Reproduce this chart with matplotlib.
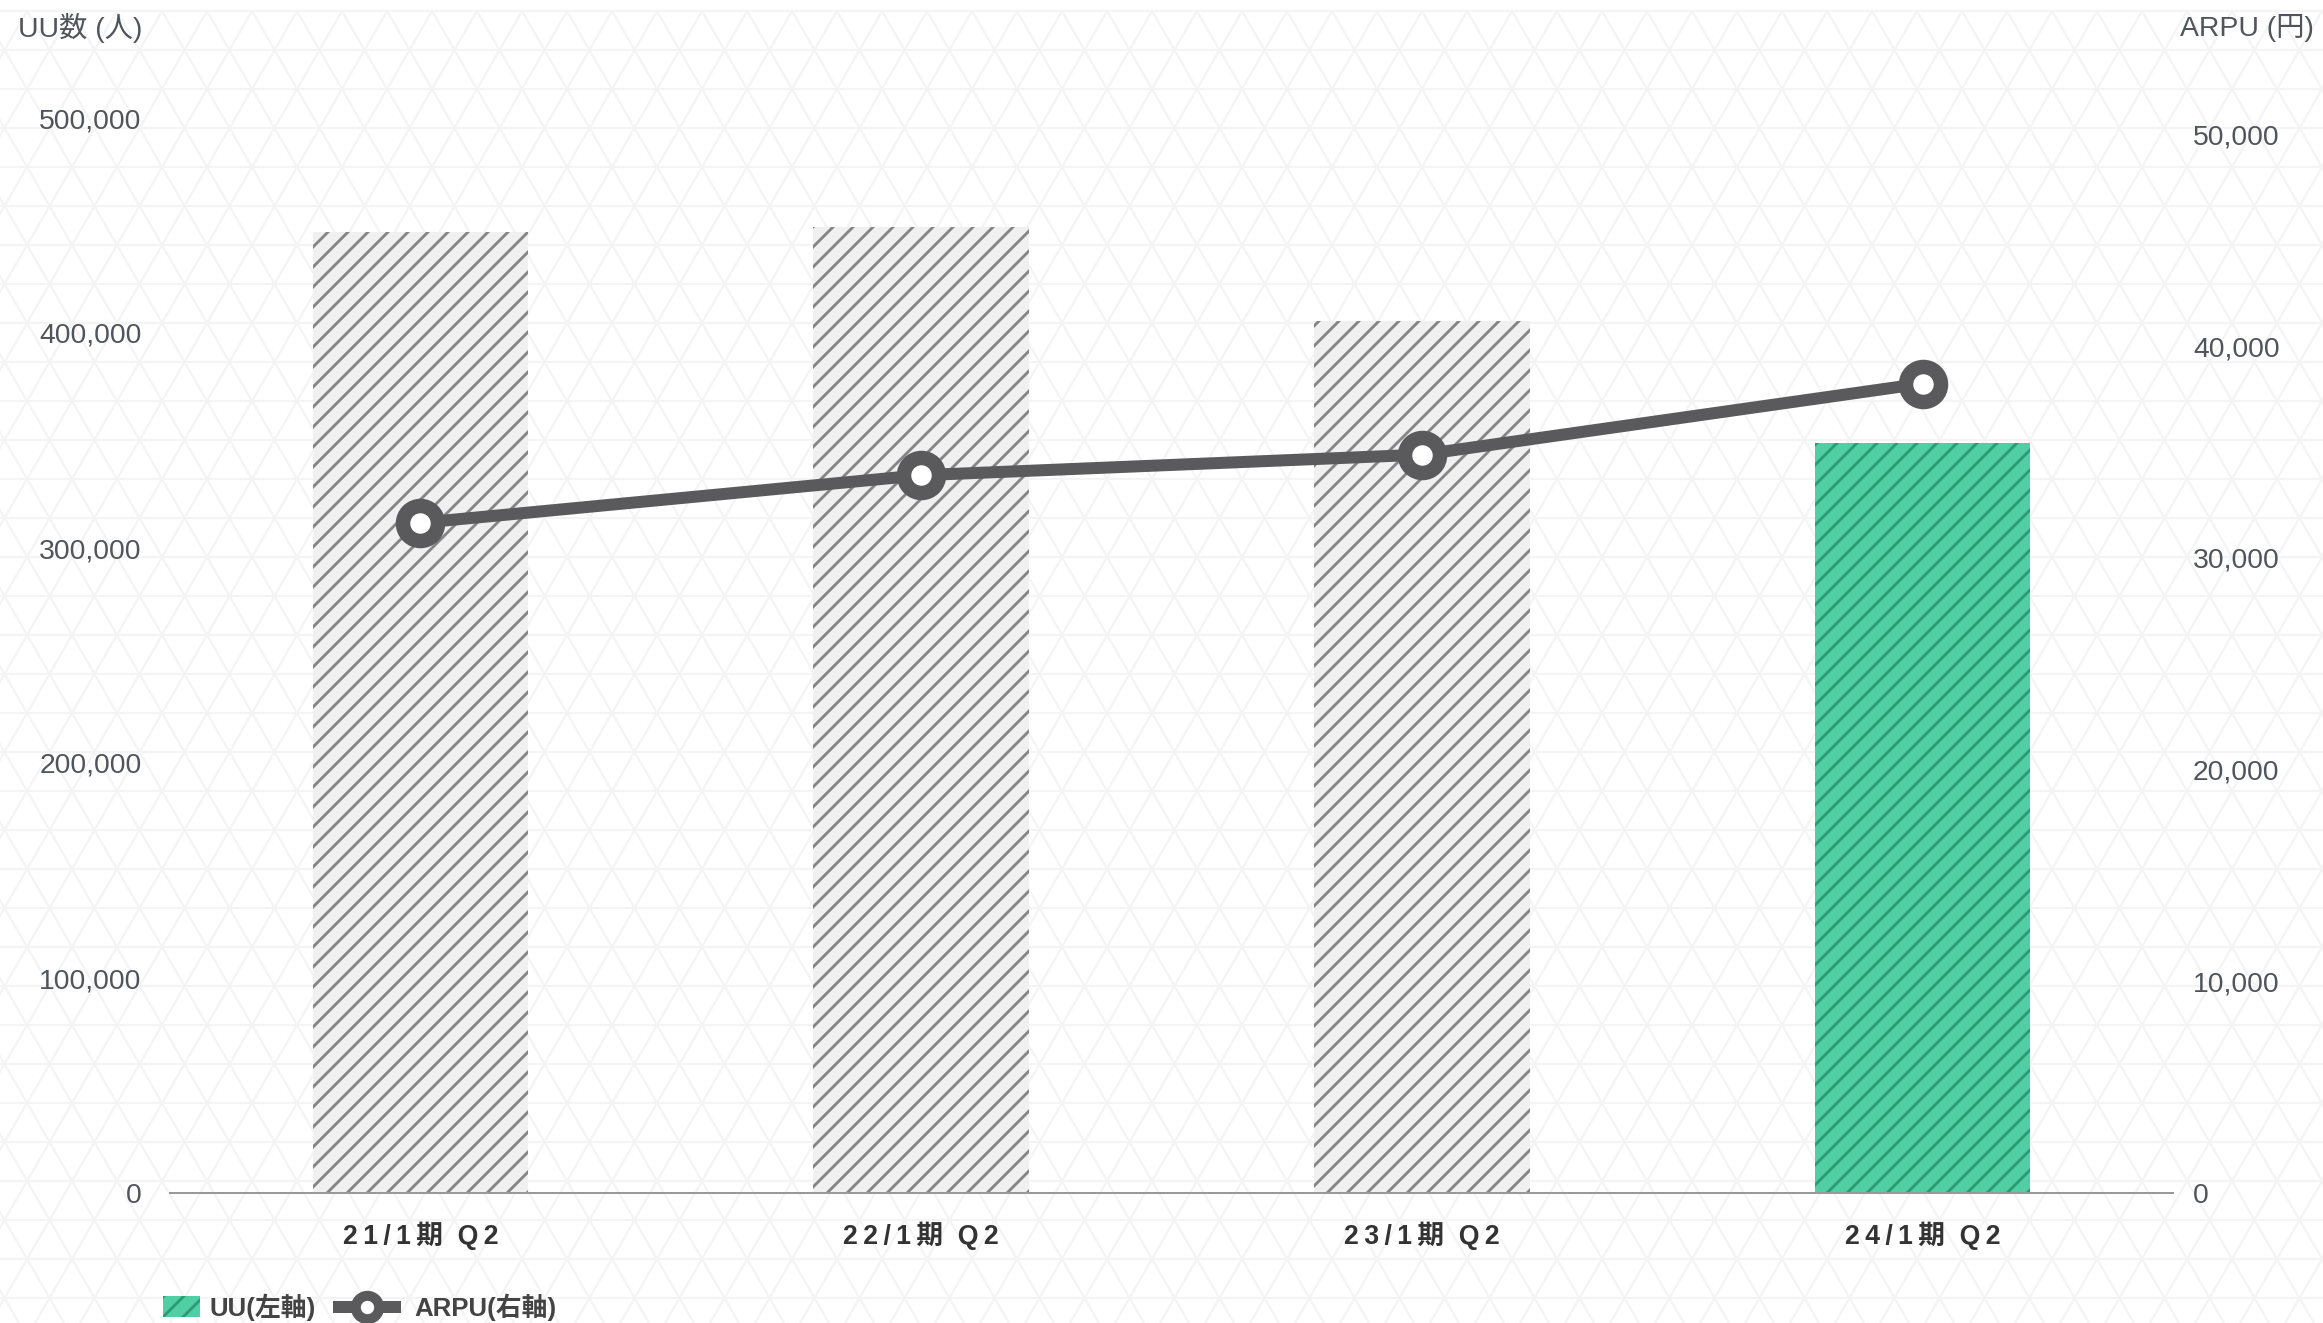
import numpy as np
import matplotlib
matplotlib.use("Agg")
from matplotlib import pyplot as plt
from matplotlib.patches import Patch
from matplotlib.lines import Line2D

plt.rcParams['font.family'] = ['Liberation Sans', 'Noto Sans CJK JP', 'DejaVu Sans']
plt.rcParams['hatch.linewidth'] = 1.7

# data
periods = ['21/1期 Q2', '22/1期 Q2', '23/1期 Q2', '24/1期 Q2']
uu = [447000, 449500, 405500, 349000]
arpu = [31650, 33900, 34870, 38230]
uu_ticks = [0, 100000, 200000, 300000, 400000, 500000]
arpu_ticks = [0, 10000, 20000, 30000, 40000, 50000]

DPI = 120
W, H = 2323, 1323
fig = plt.figure(figsize=(W / DPI, H / DPI), dpi=DPI)
fig.patch.set_facecolor('white')

# faint triangle lattice in the background
bg = fig.add_axes([0, 0, 1, 1], zorder=-5)
bg.set_xlim(0, W)
bg.set_ylim(H, 0)
bg.axis('off')
side, hgt = 45.0, 39.0
lc = '#f4f4f4'
for y in np.arange(11, H + hgt, hgt):
    bg.plot([0, W], [y, y], color=lc, lw=1.3)
slope = hgt / (side / 2)
for x0 in np.arange(-H, W + H, side):
    bg.plot([x0, x0 + H / slope], [11, 11 + H], color=lc, lw=1.3)
    bg.plot([x0, x0 - H / slope], [11, 11 + H], color=lc, lw=1.3)

ax = fig.add_axes([170 / W, 1 - 1193 / H, (2173 - 170) / W, (1193 - 118) / H])
ax.patch.set_alpha(0)
x = np.arange(len(periods))
fills = ['#f0f0f0'] * 3 + ['#52cea5']
hatch_cols = ['#858585'] * 3 + ['#2a9b72']
for i in range(len(periods)):
    ax.bar(x[i], uu[i], width=0.43, color=fills[i], edgecolor=hatch_cols[i],
           linewidth=0, hatch='//', zorder=2)
ax.set_xlim(-0.5, 3.5)
ax.set_ylim(0, 500000)
ax.set_yticks(uu_ticks)
ax.set_yticklabels([f'{v:,}' for v in uu_ticks])
ax.set_xticks(x)
spaced = ['\u2009'.join(p.split(' ')[0]) + '  ' + '\u2009'.join(p.split(' ')[1]) for p in periods]
ax.set_xticklabels(spaced, fontsize=16, fontweight='bold', color='#333333')
ax.tick_params(axis='x', length=0, pad=17)
ax.tick_params(axis='y', length=0, pad=17, labelsize=17, labelcolor='#50555c')
for s in ['top', 'left', 'right']:
    ax.spines[s].set_visible(False)
ax.spines['bottom'].set_color('#999999')
ax.spines['bottom'].set_linewidth(1.2)

ax2 = ax.twinx()
ax2.plot(x, arpu, color='#5a5a5c', lw=7.2, marker='o', markersize=21,
         markerfacecolor='white', markeredgecolor='#5a5a5c', markeredgewidth=8.7,
         zorder=5, solid_capstyle='round')
ax2.set_ylim(0, 50000 * 725 / 714)
ax2.set_yticks(arpu_ticks)
ax2.set_yticklabels([f'{v:,}' for v in arpu_ticks])
ax2.tick_params(axis='y', length=0, pad=12, labelsize=17, labelcolor='#50555c')
for s in ax2.spines.values():
    s.set_visible(False)

fig.text(18 / W, 1 - 28 / H, 'UU数 (人)', fontsize=17, color='#50555c', va='center', ha='left')
fig.text(2314 / W, 1 - 28 / H, 'ARPU (円)', fontsize=17, color='#50555c', va='center', ha='right')

# two legend pieces so each handle can have its own length
leg_kw = dict(loc='center left', frameon=False, prop={'size': 15.5, 'weight': 'bold'},
              labelcolor='#444444', borderpad=0, borderaxespad=0)
h_uu = Patch(facecolor='#52cea5', edgecolor='#2a9b72', hatch='//', linewidth=0)
h_arpu = Line2D([], [], color='#5a5a5c', lw=7.2, marker='o', markersize=14,
                markerfacecolor='white', markeredgecolor='#5a5a5c', markeredgewidth=6)
fig.legend([h_uu], ['UU(左軸)'], bbox_to_anchor=(163 / W, 1 - 1307 / H),
           handlelength=1.45, handleheight=0.9, handletextpad=0.35, **leg_kw)
fig.legend([h_arpu], ['ARPU(右軸)'], bbox_to_anchor=(339 / W, 1 - 1307 / H),
           handlelength=2.15, handletextpad=0.75, **leg_kw)

fig.savefig('out.png', dpi=DPI)
